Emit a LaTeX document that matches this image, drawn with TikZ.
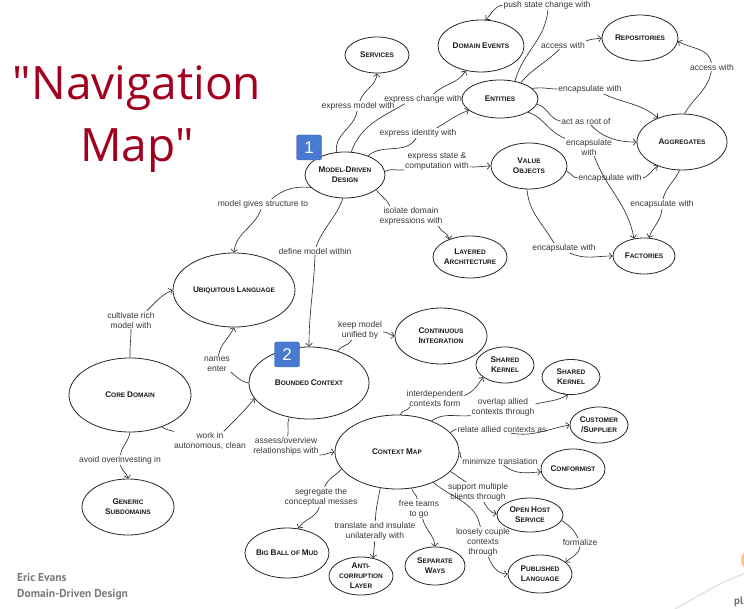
\documentclass[tikz,border=0pt]{standalone}
\usepackage{fontspec}
\setmainfont{Liberation Sans}
\newfontfamily\titlefont{Open Sans}
\newfontfamily\footfont{PT Sans}
\usetikzlibrary{shapes.geometric,arrows.meta}
\definecolor{titlered}{RGB}{163,0,32}
\definecolor{badgeblue}{RGB}{72,122,210}
\definecolor{edgecol}{RGB}{50,50,50}
\newcommand\kc[2]{{\fontsize{8.2}{10}\selectfont#1}{\fontsize{6.5}{10}\selectfont#2}}
\newcommand\ks[1]{{\fontsize{6.5}{10}\selectfont#1}}
\begin{document}
\begin{tikzpicture}[x=1pt,y=1pt,
  el/.style={ellipse, draw=black!85, line width=0.8pt, inner sep=-8pt, align=center,
    font=\bfseries\fontsize{6.5}{10}\selectfont, text=black!90},
  lbl/.style={inner sep=0.8pt, align=center, font=\fontsize{8.5}{10}\selectfont, text=black!78},
  ln/.style={draw=edgecol, line width=0.65pt},
  arr/.style={ln, -{Straight Barb[length=3pt,width=6.5pt]}},
  badgebox/.style={fill=badgeblue, draw=badgeblue!80!black, line width=0.3pt, rounded corners=2pt,
    minimum width=25pt, minimum height=25pt, inner sep=0pt, text=white, font=\fontsize{17}{17}\selectfont}
]
\fill[white] (0,0) rectangle (744,-609);
\useasboundingbox (0,0) rectangle (744,-609);

% title and footer
\node[anchor=base, font=\titlefont\fontsize{46}{50}\selectfont, text=titlered, inner sep=0pt] (title1) at (137,-100) {"Navigation};
\node[anchor=base, font=\titlefont\fontsize{46}{50}\selectfont, text=titlered, inner sep=0pt] (title2) at (137,-162) {Map"};
\node[anchor=base west, font=\footfont\bfseries\fontsize{11.5}{14}\selectfont, text=black!52, inner sep=0pt] (foot1) at (17,-581) {Eric Evans};
\node[anchor=base west, font=\footfont\bfseries\fontsize{11.5}{14}\selectfont, text=black!52, inner sep=0pt] (foot2) at (17,-597) {Domain-Driven Design};

% nodes
\node[el, minimum width=64pt, minimum height=36pt] (services) at (377,-55) {\kc{S}{ERVICES}};
\node[el, minimum width=86pt, minimum height=52pt] (de) at (481,-46) {\kc{D}{OMAIN} \kc{E}{VENTS}};
\node[el, minimum width=76pt, minimum height=46pt] (repo) at (640,-38) {\kc{R}{EPOSITORIES}};
\node[el, minimum width=76pt, minimum height=38pt] (ent) at (500,-99) {\kc{E}{NTITIES}};
\node[el, minimum width=90pt, minimum height=56pt] (agg) at (682,-142) {\kc{A}{GGREGATES}};
\node[el, minimum width=80pt, minimum height=46pt] (mdd) at (345,-175) {\kc{M}{ODEL}-\kc{D}{RIVEN}\\\kc{D}{ESIGN}};
\node[el, minimum width=76pt, minimum height=46pt] (vo) at (529,-166) {\kc{V}{ALUE}\\\kc{O}{BJECTS}};
\node[el, minimum width=74pt, minimum height=42pt] (la) at (470,-257) {\kc{L}{AYERED}\\\kc{A}{RCHITECTURE}};
\node[el, minimum width=62pt, minimum height=36pt] (fac) at (644,-256) {\kc{F}{ACTORIES}};
\node[el, minimum width=122pt, minimum height=74pt] (ul) at (234,-290) {\kc{U}{BIQUITOUS} \kc{L}{ANGUAGE}};
\node[el, minimum width=120pt, minimum height=72pt] (bc) at (309,-383) {\kc{B}{OUNDED} \kc{C}{ONTEXT}};
\node[el, minimum width=122pt, minimum height=74pt] (cd) at (130,-395) {\kc{C}{ORE} \kc{D}{OMAIN}};
\node[el, minimum width=92pt, minimum height=56pt] (gs) at (128,-507) {\kc{G}{ENERIC}\\\kc{S}{UBDOMAINS}};
\node[el, minimum width=92pt, minimum height=56pt] (ci) at (441,-336) {\kc{C}{ONTINUOUS}\\\kc{I}{NTEGRATION}};
\node[el, minimum width=58pt, minimum height=36pt] (sk1) at (505,-365) {\kc{S}{HARED}\\\kc{K}{ERNEL}};
\node[el, minimum width=58pt, minimum height=35pt] (sk2) at (571,-377) {\kc{S}{HARED}\\\kc{K}{ERNEL}};
\node[el, minimum width=58pt, minimum height=36pt] (cs) at (599,-425) {\kc{C}{USTOMER}\\\kc{/S}{UPPLIER}};
\node[el, minimum width=124pt, minimum height=74pt] (cm) at (397,-452) {\kc{C}{ONTEXT} \kc{M}{AP}};
\node[el, minimum width=64pt, minimum height=40pt] (conf) at (573,-469) {\kc{C}{ONFORMIST}};
\node[el, minimum width=66pt, minimum height=34pt] (ohs) at (530,-515) {\kc{O}{PEN} \kc{H}{OST}\\\kc{S}{ERVICE}};
\node[el, minimum width=64pt, minimum height=38pt] (pl) at (540,-574) {\kc{P}{UBLISHED}\\\kc{L}{ANGUAGE}};
\node[el, minimum width=84pt, minimum height=50pt] (bbom) at (287,-553) {\kc{B}{IG} \kc{B}{ALL OF} \kc{M}{UD}};
\node[el, minimum width=64pt, minimum height=38pt] (acl) at (361,-576) {\kc{A}{NTI-}\\\ks{CORRUPTION}\\\kc{L}{AYER}};
\node[el, minimum width=60pt, minimum height=38pt] (sw) at (435,-566) {\kc{S}{EPARATE}\\\kc{W}{AYS}};

% labels
\node[lbl] (l1) at (358,-106) {express model with};
\node[lbl] (l2) at (423,-99) {express change with};
\node[lbl] (l3) at (418,-133) {express identity with};
\node[lbl] (l4) at (547,-5) {push state change with};
\node[lbl] (l5) at (563,-45) {access with};
\node[lbl] (l6) at (590,-89) {encapsulate with};
\node[lbl] (l7) at (586,-121) {act as root of};
\node[lbl] (l8) at (589,-147) {encapsulate\\with};
\node[lbl] (l9) at (712,-67) {access with};
\node[lbl] (l10) at (437,-161) {express state \&\\computation with};
\node[lbl] (l11) at (610,-178) {encapsulate with};
\node[lbl] (l12) at (564,-248) {encapsulate with};
\node[lbl] (l13) at (662,-204) {encapsulate with};
\node[lbl] (l14) at (411,-216) {isolate domain\\expressions with};
\node[lbl] (l15) at (263,-204) {model gives structure to};
\node[lbl] (l16) at (315,-251) {define model within};
\node[lbl] (l17) at (360,-330) {keep model\\unified by};
\node[lbl] (l18) at (217,-364) {names\\enter};
\node[lbl] (l19) at (131,-320) {cultivate rich\\model with};
\node[lbl] (l20) at (210,-441) {work in\\autonomous, clean};
\node[lbl] (l21) at (120,-460) {avoid overinvesting in};
\node[lbl] (l22) at (286,-446) {assess/overview\\relationships with};
\node[lbl] (l23) at (435,-398) {interdependent\\contexts form};
\node[lbl] (l24) at (503,-407) {overlap allied\\contexts through};
\node[lbl] (l25) at (502,-429) {relate allied contexts as};
\node[lbl] (l26) at (500,-461) {minimize translation};
\node[lbl] (l27) at (478,-492) {support multiple\\clients through};
\node[lbl] (l28) at (580,-542) {formalize};
\node[lbl] (l29) at (483,-542) {loosely couple\\contexts\\through};
\node[lbl] (l30) at (321,-497) {segregate the\\conceptual messes};
\node[lbl] (l31) at (375,-531) {translate and insulate\\unilaterally with};
\node[lbl] (l32) at (419,-509) {free teams\\to go};

% connectors
\draw[ln] (mdd.110) to[out=100,in=-100] (l1.-100);
\draw[arr] (l1.70) to[out=70,in=-95] (services.-90);
\draw[ln] (mdd.75) to[out=70,in=-150] (l2.-165);
\draw[arr] (l2.25) to[out=45,in=-120] (de.-122);
\draw[ln] (mdd.40) to[out=40,in=-120] (l3.-110);
\draw[arr] (l3.15) to[out=30,in=-160] (ent.-160);
\draw[ln] (ent.50) to[out=75,in=-95] (l4.-80);
\draw[arr] (l4.west) to[out=190,in=45] (de.80);
\draw[ln] (ent.38) to[out=50,in=-135] (l5.-130);
\draw[arr] (l5.10) to[out=20,in=190] (repo.180);
\draw[ln] (ent.18) to[out=10,in=180] (l6.west);
\draw[arr] (l6.-20) to[out=-25,in=140] (agg.135);
\draw[ln] (ent.-8) to[out=-15,in=170] (l7.west);
\draw[arr] (l7.-40) to[out=-45,in=180] (agg.180);
\draw[ln] (ent.-25) to[out=-20,in=160] (l8.160);
\draw[arr] (l8.-60) to[out=-70,in=100] (fac.120);
\draw[ln] (agg.85) to[out=60,in=-100] (l9.-100);
\draw[arr] (l9.100) to[out=100,in=-30] (repo.-5);
\draw[ln] (mdd.5) to[out=30,in=190] (l10.195);
\draw[arr] (l10.-10) to[out=-5,in=180] (vo.180);
\draw[ln] (vo.-8) to[out=-20,in=175] (l11.west);
\draw[arr] (l11.east) to[out=15,in=-150] (agg.-135);
\draw[ln] (vo.-95) to[out=-85,in=120] ([xshift=-10pt]l12.north);
\draw[arr] (l12.-40) to[out=-25,in=180] (fac.180);
\draw[ln] (agg.-95) to[out=-115,in=75] (l13.80);
\draw[arr] (l13.-90) to[out=-95,in=70] (fac.75);
\draw[ln] (mdd.-25) to[out=-60,in=110] (l14.155);
\draw[arr] (l14.-20) to[out=-70,in=95] (la.140);
\draw[ln] (mdd.-160) to[out=175,in=40] (l15.30);
\draw[arr] (l15.-110) to[out=-110,in=85] (ul.90);
\draw[ln] (mdd.-95) to[out=-110,in=70] (l16.75);
\draw[arr] (l16.-90) to[out=-92,in=90] (bc.90);
\draw[ln] (bc.48) to[out=60,in=-115] (l17.-130);
\draw[arr] (l17.-5) to[out=5,in=170] (ci.180);
\draw[ln] (bc.180) to[out=170,in=-40] (l18.-30);
\draw[arr] (l18.80) to[out=80,in=-115] (ul.-90);
\draw[ln] (cd.90) to[out=92,in=-90] (l19.-90);
\draw[arr] (l19.30) to[out=45,in=-155] (ul.180);
\draw[ln] (cd.-45) to[out=-35,in=165] (l20.165);
\draw[arr] (l20.35) to[out=45,in=-130] (bc.-164);
\draw[ln] (cd.-90) to[out=-100,in=80] (l21.85);
\draw[arr] (l21.-85) to[out=-80,in=100] (gs.90);
\draw[ln] (bc.-120) to[out=-110,in=80] (l22.80);
\draw[arr] (l22.-15) to[out=-5,in=180] (cm.180);
\draw[ln] (cm.85) to[out=75,in=-120] (l23.-160);
\draw[arr] (l23.5) to[out=20,in=-125] (sk1.-151);
\draw[ln] (cm.42) to[out=35,in=185] (l24.-165);
\draw[arr] (l24.5) to[out=15,in=-150] (sk2.-100);
\draw[ln] (cm.20) to[out=20,in=180] (l25.180);
\draw[arr] (l25.-25) to[out=-10,in=190] (cs.180);
\draw[ln] (cm.0) to[out=-10,in=175] (l26.175);
\draw[arr] (l26.-50) to[out=-40,in=185] (conf.185);
\draw[ln] (cm.-20) to[out=-30,in=150] (l27.140);
\draw[arr] (l27.-60) to[out=-60,in=170] (ohs.178);
\draw[ln] (ohs.-10) to[out=-35,in=110] (l28.120);
\draw[arr] (l28.-90) to[out=-95,in=40] (pl.25);
\draw[ln] (cm.-40) to[out=-40,in=100] (l29.100);
\draw[arr] (l29.-70) to[out=-70,in=180] (pl.180);
\draw[ln] (cm.-163) to[out=-130,in=70] (l30.70);
\draw[arr] (l30.-100) to[out=-105,in=60] (bbom.65);
\draw[ln] (cm.-115) to[out=-100,in=88] (l31.88);
\draw[arr] (l31.-92) to[out=-92,in=85] (acl.56);
\draw[ln] (cm.-68) to[out=-80,in=95] (l32.100);
\draw[arr] (l32.-70) to[out=-75,in=95] (sw.90);

% badges
\node[badgebox] (b1) at (309,-147.5) {1};
\node[badgebox] (b2) at (287,-354.5) {2};

% partial logo at bottom right
\begin{scope}
\clip (0,0) rectangle (744,-609);
\draw[black!10, line width=1.5pt] (675,-609) .. controls (705,-592) and (725,-580) .. (744,-574);
\fill[orange!45] (753,-560) circle (12);
\end{scope}
\node[anchor=base east, text=black!55, font=\footfont\bfseries\fontsize{11}{11}\selectfont, inner sep=0pt] (logo) at (743.5,-604.5) {pl};
\end{tikzpicture}
\end{document}
